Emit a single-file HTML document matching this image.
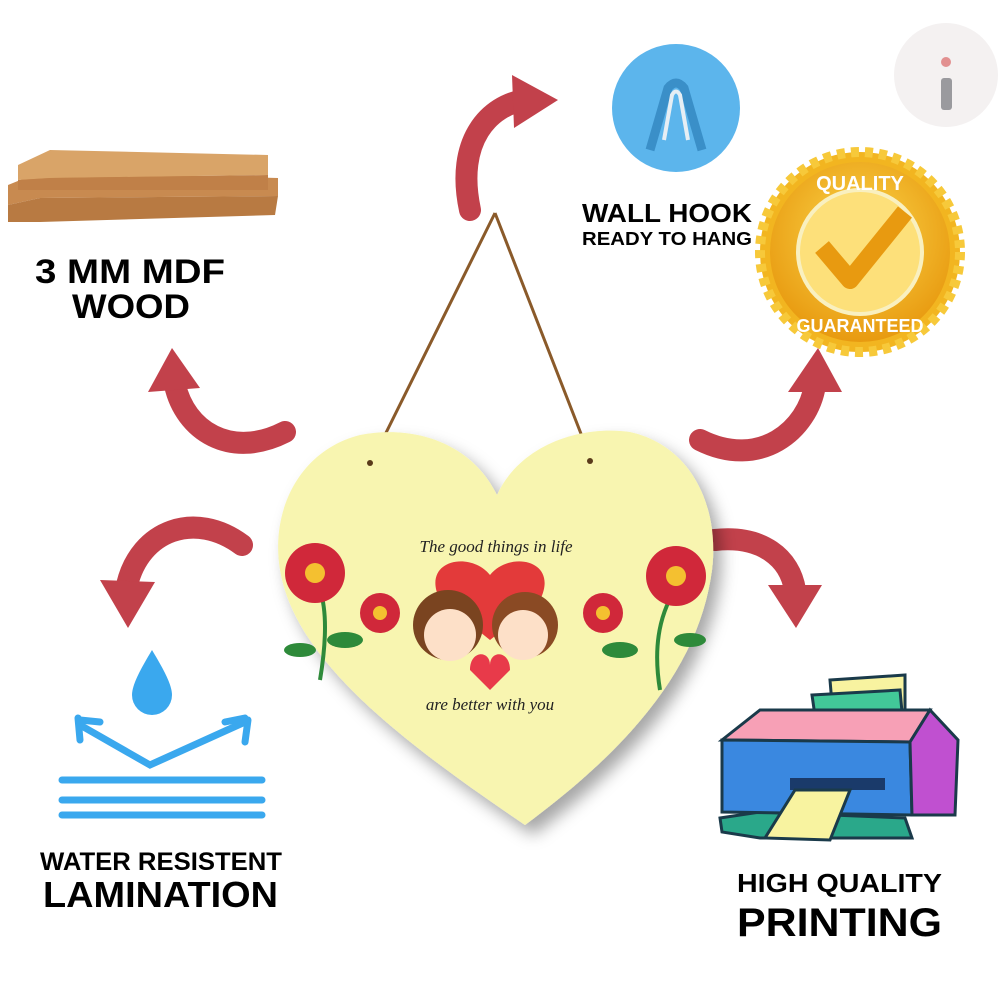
<!DOCTYPE html>
<html><head><meta charset="utf-8"><style>
html,body{margin:0;padding:0;background:#fff;}
svg{display:block}
</style></head><body>
<svg width="1000" height="1000" viewBox="0 0 1000 1000" xmlns="http://www.w3.org/2000/svg">
<defs>
<filter id="sh" x="-20%" y="-20%" width="140%" height="140%"><feDropShadow dx="8" dy="10" stdDeviation="8" flood-color="#000" flood-opacity="0.35"/></filter>
<radialGradient id="gold" cx="50%" cy="40%" r="60%"><stop offset="0" stop-color="#fbd64a"/><stop offset="1" stop-color="#e89a10"/></radialGradient>
</defs>
<rect width="1000" height="1000" fill="#fff"/>

<!-- logo -->
<circle cx="946" cy="75" r="52" fill="#f4f1f1"/>
<rect x="941" y="78" width="11" height="32" rx="3" fill="#9a9a9e"/>
<circle cx="946" cy="62" r="5" fill="#e29090"/>

<!-- wood planks -->
<polygon points="8,185 40,172 278,178 278,196 40,198 8,205" fill="#c88a50"/>
<polygon points="8,205 40,198 278,196 275,215 40,222 8,222" fill="#b87a42"/>
<polygon points="18,165 50,150 268,155 268,175 50,178 18,180" fill="#d9a468"/>
<polygon points="18,180 50,178 268,175 268,190 18,190" fill="#c08048"/>
<text x="35" y="283" textLength="190" lengthAdjust="spacingAndGlyphs" font-family="Liberation Sans,sans-serif" font-weight="bold" font-size="34" fill="#000">3 MM MDF</text>
<text x="72" y="318" textLength="118" lengthAdjust="spacingAndGlyphs" font-family="Liberation Sans,sans-serif" font-weight="bold" font-size="34" fill="#000">WOOD</text>

<!-- wall hook -->
<circle cx="676" cy="108" r="64" fill="#5cb5ec"/>
<path d="M650,150 L668,88 Q676,78 684,88 L702,150" fill="none" stroke="#3a8fc8" stroke-width="9"/>
<path d="M664,140 L672,95 Q676,88 680,95 L688,140" fill="none" stroke="#e6eef4" stroke-width="4"/>
<text x="582" y="222" textLength="170" lengthAdjust="spacingAndGlyphs" font-family="Liberation Sans,sans-serif" font-weight="bold" font-size="26">WALL HOOK</text>
<text x="582" y="245" textLength="170" lengthAdjust="spacingAndGlyphs" font-family="Liberation Sans,sans-serif" font-weight="bold" font-size="18">READY TO HANG</text>

<!-- quality badge -->
<g transform="translate(860,252)">
<circle r="100" fill="#f2b520" stroke="#f7c93a" stroke-width="10" stroke-dasharray="8 6"/>
<circle r="90" fill="url(#gold)"/>
<circle r="62" fill="#fde07a" stroke="#f9f0c0" stroke-width="4"/>
<path d="M-38,-5 L-10,28 L45,-40" fill="none" stroke="#e89a10" stroke-width="18" stroke-linejoin="round"/>
<text x="0" y="-62" font-family="Liberation Sans,sans-serif" font-weight="bold" font-size="20" text-anchor="middle" fill="#fff">QUALITY</text>
<text x="0" y="80" font-family="Liberation Sans,sans-serif" font-weight="bold" font-size="18" text-anchor="middle" fill="#fff">GUARANTEED</text>
</g>

<!-- arrows -->
<g fill="none" stroke="#c2414b" stroke-width="22" stroke-linecap="round">
<path d="M470,210 C455,140 490,105 525,100"/>
<path d="M285,432 C230,460 185,430 175,385"/>
<path d="M700,440 C760,470 808,430 815,385"/>
<path d="M242,545 C195,510 140,530 127,585"/>
<path d="M715,540 C762,535 790,558 795,590"/>
</g>
<g fill="#c2414b">
<polygon points="512,75 558,100 514,128"/>
<polygon points="148,392 172,348 200,388"/>
<polygon points="788,392 818,348 842,392"/>
<polygon points="100,580 128,628 155,582"/>
<polygon points="768,585 796,628 822,585"/>
</g>

<!-- string -->
<path d="M495,213 L370,465 M495,213 L592,462" stroke="#8a5a2a" stroke-width="3" fill="none"/>

<!-- heart -->
<path filter="url(#sh)" d="M497,495 C470,440 410,425 360,435 C300,450 270,510 280,570 C295,660 400,740 525,825 C640,740 700,660 712,570 C720,505 690,445 630,432 C580,425 520,445 497,495 Z" fill="#f8f5b0"/>
<circle cx="370" cy="463" r="3" fill="#5a3a1a"/><circle cx="590" cy="461" r="3" fill="#5a3a1a"/>
<text x="496" y="552" font-family="Liberation Serif,serif" font-style="italic" font-size="17" text-anchor="middle" fill="#222">The good things in life</text>
<text x="490" y="710" font-family="Liberation Serif,serif" font-style="italic" font-size="17" text-anchor="middle" fill="#222">are better with you</text>
<!-- flowers -->
<g fill="#2e8a3a"><path d="M320,680 Q330,620 320,590" stroke="#2e8a3a" stroke-width="4" fill="none"/><ellipse cx="345" cy="640" rx="18" ry="8"/><ellipse cx="300" cy="650" rx="16" ry="7"/>
<path d="M660,690 Q650,630 675,590" stroke="#2e8a3a" stroke-width="4" fill="none"/><ellipse cx="620" cy="650" rx="18" ry="8"/><ellipse cx="690" cy="640" rx="16" ry="7"/></g>
<circle cx="315" cy="573" r="30" fill="#d0283a"/><circle cx="315" cy="573" r="10" fill="#f4c030"/>
<circle cx="380" cy="613" r="20" fill="#d0283a"/><circle cx="380" cy="613" r="7" fill="#f4c030"/>
<circle cx="676" cy="576" r="30" fill="#d0283a"/><circle cx="676" cy="576" r="10" fill="#f4c030"/>
<circle cx="603" cy="613" r="20" fill="#d0283a"/><circle cx="603" cy="613" r="7" fill="#f4c030"/>
<!-- couple -->
<path d="M490,575 C470,550 420,560 440,600 L490,640 L540,600 C560,560 510,550 490,575Z" fill="#e33a3a"/>
<circle cx="448" cy="625" r="35" fill="#7a4420"/><circle cx="450" cy="635" r="26" fill="#fde0c8"/>
<circle cx="525" cy="625" r="33" fill="#8a4a24"/><circle cx="523" cy="635" r="25" fill="#fde0c8"/>
<path d="M470,670 C470,650 490,650 490,665 C490,650 510,650 510,670 L490,690Z" fill="#e83a4a"/>

<!-- water icon -->
<path d="M152,650 C140,670 132,685 132,695 A20,20 0 0 0 172,695 C172,685 164,670 152,650Z" fill="#3aa8ee"/>
<g stroke="#3aa8ee" stroke-width="7" fill="none" stroke-linecap="round">
<path d="M80,725 L150,765 L245,722"/>
<path d="M78,718 L80,740 M80,720 L100,722"/>
<path d="M245,718 L225,722 M248,720 L245,742"/>
<path d="M62,780 H262 M62,800 H262 M62,815 H262"/>
</g>
<text x="40" y="870" textLength="242" lengthAdjust="spacingAndGlyphs" font-family="Liberation Sans,sans-serif" font-weight="bold" font-size="25">WATER RESISTENT</text>
<text x="43" y="907" textLength="235" lengthAdjust="spacingAndGlyphs" font-family="Liberation Sans,sans-serif" font-weight="bold" font-size="36">LAMINATION</text>

<!-- printer -->
<polygon points="720,818 760,812 905,818 912,838 760,838 722,832" fill="#2aa88a" stroke="#1a3a4a" stroke-width="3"/>
<polygon points="830,680 905,675 905,735 835,740" fill="#f8f3a0" stroke="#1a3a4a" stroke-width="3"/>
<polygon points="812,695 900,690 902,712 815,716" fill="#42c898" stroke="#1a3a4a" stroke-width="3"/>
<polygon points="722,740 760,710 930,710 910,742" fill="#f7a0b6" stroke="#1a3a4a" stroke-width="3"/>
<polygon points="722,740 910,742 912,815 722,812" fill="#3a88e0" stroke="#1a3a4a" stroke-width="3"/>
<polygon points="910,742 930,710 958,740 955,815 912,815" fill="#c050d0" stroke="#1a3a4a" stroke-width="3"/>
<rect x="790" y="778" width="95" height="12" fill="#1a3a6a"/>
<polygon points="795,790 850,790 830,840 765,838" fill="#f8f3a0" stroke="#1a3a4a" stroke-width="3"/>
<text x="737" y="892" textLength="205" lengthAdjust="spacingAndGlyphs" font-family="Liberation Sans,sans-serif" font-weight="bold" font-size="26">HIGH QUALITY</text>
<text x="737" y="936" textLength="205" lengthAdjust="spacingAndGlyphs" font-family="Liberation Sans,sans-serif" font-weight="bold" font-size="40">PRINTING</text>
</svg>
</body></html>
